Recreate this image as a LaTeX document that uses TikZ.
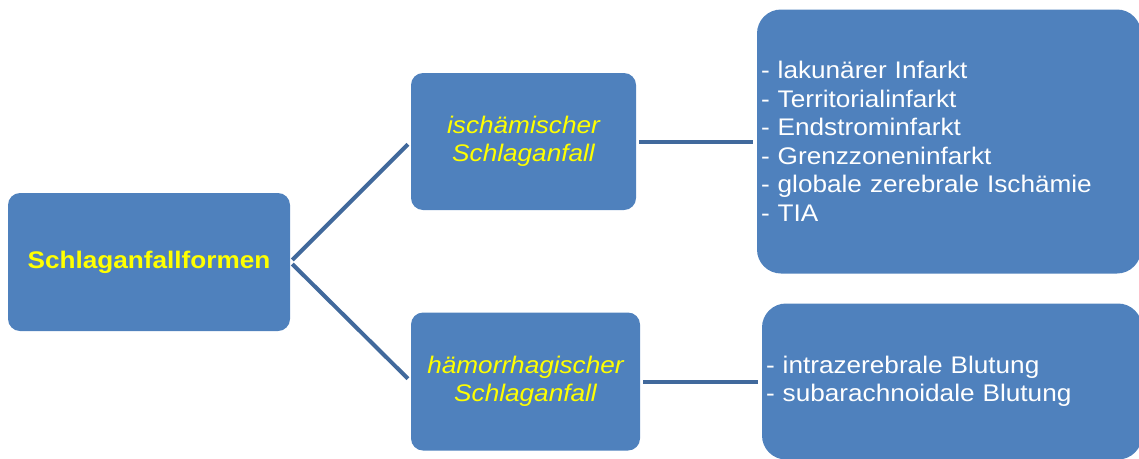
\documentclass[tikz,border=0pt]{standalone}
\usepackage{fontspec}
\setmainfont[FakeStretch=1.09]{Liberation Sans}
\usetikzlibrary{positioning, calc}
\definecolor{boxblue}{HTML}{4F81BD}
\definecolor{linkblue}{HTML}{41699C}
\definecolor{headyellow}{HTML}{FFFF00}

\begin{document}
\begin{tikzpicture}[x=1pt, y=-1pt,
    box/.style={fill=boxblue, rounded corners=12pt, inner sep=4pt, align=center,
        font=\fontsize{24}{28.5}\selectfont},
    head/.style={box, text=headyellow},
    list/.style={box, text=white, align=left, rounded corners=24pt},
    link/.style={draw=linkblue, line width=4pt, shorten <=3pt, shorten >=4pt}]
    \useasboundingbox (0, 0) rectangle (1139, 458);
    \clip (0, 0) rectangle (1139, 458);
    % root
    \node[head, minimum width=282pt, minimum height=138pt, font=\fontsize{24}{28.5}\selectfont\bfseries]
        (root) at (149, 262) {Schlaganfallformen};
    % branches
    \node[head, minimum width=225pt, minimum height=137pt, font=\fontsize{24}{28.5}\selectfont\itshape]
        (isch) at (523.5, 141.5) {ischämischer\\Schlaganfall};
    \node[head, minimum width=229pt, minimum height=138pt, font=\fontsize{24}{28.5}\selectfont\itshape]
        (haem) at (525.5, 381.5) {hämorrhagischer\\Schlaganfall};
    % lists
    \node[list, text width=376pt, minimum height=264pt] (ischlist) at (949, 141.5)
        {- lakunärer Infarkt\\- Territorialinfarkt\\- Endstrominfarkt\\- Grenzzoneninfarkt\\- globale zerebrale Ischämie\\- TIA};
    \node[list, text width=372pt, minimum height=156pt] (haemlist) at (952, 381.5)
        {- intrazerebrale Blutung\\- subarachnoidale Blutung};
    % connectors
    \draw[link] (root.east) -- (isch.west);
    \draw[link] (root.east) -- (haem.west);
    \draw[link] (isch.east) -- (ischlist.west);
    \draw[link] (haem.east) -- (haemlist.west);
\end{tikzpicture}
\end{document}
